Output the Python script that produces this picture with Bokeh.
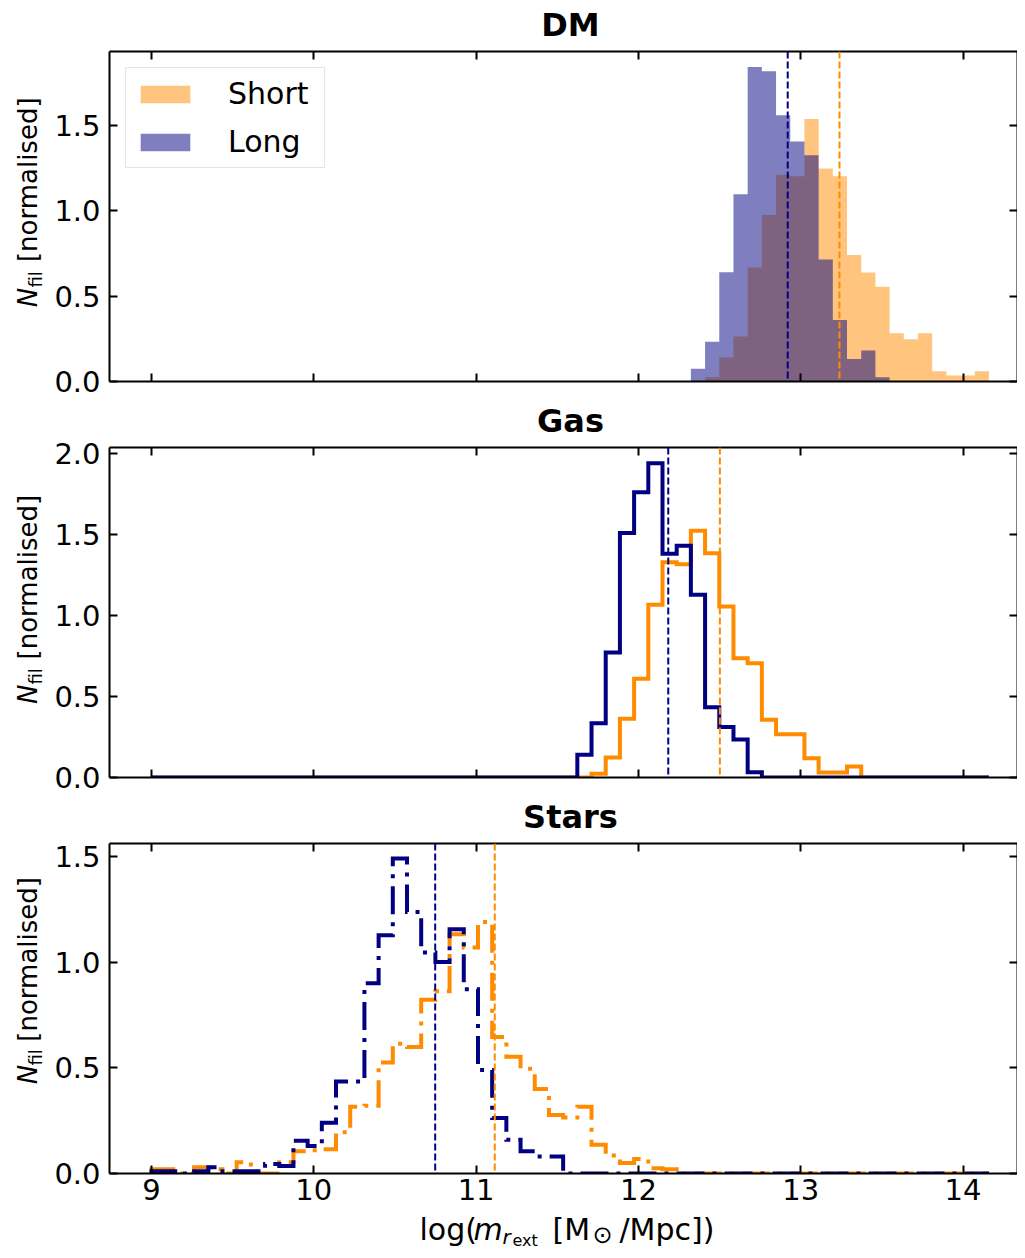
import numpy as np
from bokeh.plotting import figure
from bokeh.layouts import column, row
from bokeh.models import (Range1d, LinearAxis, FixedTicker, PrintfTickFormatter,
                          Span, Legend, LegendItem)
from bokeh.core.properties import value
from bokeh.embed import file_html
from bokeh.resources import INLINE

# ---------------- data ----------------
x_ticks = [9, 10, 11, 12, 13, 14]
dm_y_ticks = [0.0, 0.5, 1.0, 1.5]
gas_y_ticks = [0.0, 0.5, 1.0, 1.5, 2.0]
stars_y_ticks = [0.0, 0.5, 1.0, 1.5]

bin_min, bin_max, n_bins = 9.0, 14.16, 59

# DM (normalised counts, starting at the given bin index)
dm_short_first = 39
dm_short = [0.025, 0.14, 0.263, 0.667, 0.975, 1.21, 1.201, 1.537, 1.247, 1.201,
            0.741, 0.638, 0.555, 0.282, 0.247, 0.282, 0.06, 0.035, 0.035, 0.06]
dm_long_first = 38
dm_long = [0.074, 0.233, 0.640, 1.096, 1.841, 1.816, 1.559, 1.405, 1.325, 0.714,
           0.360, 0.132, 0.181, 0.025]

# Gas
gas_short_first = 31
gas_short = [0.023, 0.123, 0.362, 0.609, 1.066, 1.329, 1.317, 1.523, 1.385, 1.056,
             0.736, 0.706, 0.356, 0.267, 0.267, 0.119, 0.031, 0.031, 0.068]
gas_long_first = 30
gas_long = [0.140, 0.335, 0.772, 1.510, 1.761, 1.940, 1.381, 1.430, 1.128, 0.434,
            0.311, 0.235, 0.033]

# Stars
stars_short_first = 0
stars_short = [0.02, 0.02, 0.0, 0.03, 0.02, 0.0, 0.053, 0.0, 0.0, 0.053,
               0.105, 0.11, 0.115, 0.195, 0.316, 0.32, 0.525, 0.614, 0.598, 0.822,
               0.862, 1.132, 1.069, 1.19, 0.646, 0.552, 0.495, 0.40, 0.277, 0.265,
               0.316, 0.136, 0.085, 0.05, 0.068, 0.025, 0.02]
stars_long_first = 0
stars_long = [0.011, 0.011, 0.0, 0.011, 0.03, 0.011, 0.011, 0.011, 0.045, 0.035,
              0.155, 0.13, 0.24, 0.435, 0.435, 0.90, 1.127, 1.49, 1.237, 1.045,
              1.0, 1.155, 0.872, 0.49, 0.262, 0.16, 0.105, 0.081, 0.081]

# medians (dashed vertical lines)
median_short = [13.239, 12.502, 11.115]   # DM, Gas, Stars
median_long = [12.920, 12.184, 10.748]

panel_titles = ["DM", "Gas", "Stars"]
series_labels = ["Short", "Long"]

# ---------------- style / layout ----------------
ORANGE = "#FF8C00"
NAVY = "#000080"
FONT = "DejaVu Sans"
W = 1017          # total width
LAB_W = 50        # width of the y-label strip
PW = W - LAB_W    # panel figure width
P_LEFT = 59       # panel left border -> frame starts at x = 109
PX = 162.3
X0 = 9.0 - 42.0 / PX
X1 = X0 + (PW - P_LEFT) / PX
BASE = 0.346      # text anchor sits this many em above the baseline
TITLE_X = 570     # title centre, px from the left edge

edges = np.linspace(bin_min, bin_max, n_bins + 1)


def full(first, vals):
    h = np.zeros(n_bins)
    h[first:first + len(vals)] = vals
    return h


def outline(h):
    xs = np.repeat(edges, 2)
    ys = np.concatenate([[0.0], np.repeat(h, 2), [0.0]])
    return xs, ys


def text_canvas(width, height):
    f = figure(width=width, height=height, x_range=Range1d(0, width), y_range=Range1d(0, height),
               output_backend="svg", toolbar_location=None, tools="", title=None,
               x_axis_type=None, y_axis_type=None,
               min_border_left=0, min_border_right=0, min_border_top=0, min_border_bottom=0)
    f.outline_line_color = None
    f.grid.visible = False
    return f


def put(f, x, y, text, size, style="normal", vertical=False, align="left"):
    # (x, y): text position on its baseline, pixels from the strip's lower-left corner
    if vertical:
        x, angle = x - BASE * size, np.pi / 2
    else:
        y, angle = y + BASE * size, 0.0
    f.text(x=[x], y=[y], text=[text], angle=angle, text_font=value(FONT),
           text_font_size=value(f"{size}px"), text_font_style=style, text_align=align,
           text_baseline="alphabetic", text_color="black")


def title_strip(height, base_y, idx):
    f = text_canvas(W, height)
    put(f, TITLE_X, base_y, panel_titles[idx], 32, "bold", align="center")
    return f


def panel(height, top, bottom, y_end, y_ticks, x_labels, idx):
    p = figure(width=PW, height=height, x_range=Range1d(X0, X1), y_range=Range1d(0, y_end),
               output_backend="svg", toolbar_location=None, tools="", title=None,
               min_border_left=P_LEFT, min_border_right=0,
               min_border_top=top, min_border_bottom=bottom)
    p.outline_line_color = None
    p.grid.visible = False
    top_ax = LinearAxis()
    right_ax = LinearAxis()
    p.add_layout(top_ax, "above")
    p.add_layout(right_ax, "right")
    bottom_ax = p.below[0]
    left_ax = p.left[0]
    for ax in (top_ax, bottom_ax):
        ax.ticker = FixedTicker(ticks=x_ticks)
    for ax in (left_ax, right_ax):
        ax.ticker = FixedTicker(ticks=y_ticks)
        ax.formatter = PrintfTickFormatter(format="%.1f")
    for ax in (top_ax, bottom_ax, left_ax, right_ax):
        ax.major_tick_in = 8
        ax.major_tick_out = 0
        ax.minor_tick_in = 0
        ax.minor_tick_out = 0
        ax.major_tick_line_width = 2
        ax.major_tick_line_color = "black"
        ax.axis_line_width = 2
        ax.axis_line_color = "black"
        ax.major_label_text_font = FONT
        ax.major_label_text_font_size = "29px"
        ax.major_label_text_color = "black"
    left_ax.major_label_standoff = 9
    bottom_ax.major_label_standoff = 5
    hidden = [top_ax, right_ax] + ([] if x_labels else [bottom_ax])
    for ax in hidden:
        ax.major_label_text_color = None
        ax.major_label_text_font_size = "1px"
        ax.major_label_standoff = 0
    p.add_layout(Span(location=median_long[idx], dimension="height", line_color=NAVY,
                      line_width=2, line_dash="7 3"))
    p.add_layout(Span(location=median_short[idx], dimension="height", line_color=ORANGE,
                      line_width=2, line_dash="7 3"))
    return p


def ylabel_strip(height, bottom):
    f = text_canvas(LAB_W, height)
    y0 = bottom
    put(f, 36, y0 + 61, "N", 26, "italic", vertical=True)
    put(f, 41, y0 + 82, "fil", 18, vertical=True)
    put(f, 36, y0 + 109, "[normalised]", 26, vertical=True)
    return f


# ---------- DM ----------
dm_end = 1.932
p1 = panel(351, 3, 18, dm_end, dm_y_ticks, False, 0)
xs, ys = outline(full(dm_short_first, dm_short))
r_s = p1.patch(xs, ys, fill_color=ORANGE, fill_alpha=0.5, line_color=None)
xs, ys = outline(full(dm_long_first, dm_long))
r_l = p1.patch(xs, ys, fill_color=NAVY, fill_alpha=0.5, line_color=None)
legend = Legend(items=[LegendItem(label=series_labels[0], renderers=[r_s]),
                       LegendItem(label=series_labels[1], renderers=[r_l])],
                location="top_left", margin=16, padding=8, spacing=13,
                glyph_width=62, glyph_height=22, label_standoff=32, label_width=88,
                label_text_font=FONT, label_text_font_size="30px", label_text_color="black",
                border_line_color="#cccccc", border_line_width=1.5,
                background_fill_color="white", background_fill_alpha=0.8)
p1.add_layout(legend)

# ---------- Gas ----------
gas_end = 2.037
p2 = panel(355, 7, 18, gas_end, gas_y_ticks, False, 1)
xs, ys = outline(full(gas_short_first, gas_short))
p2.line(xs, ys, line_color=ORANGE, line_width=4, line_join="miter")
xs, ys = outline(full(gas_long_first, gas_long))
p2.line(xs, ys, line_color=NAVY, line_width=4, line_join="miter")

# ---------- Stars ----------
stars_end = 1.561
p3 = panel(373, 3, 40, stars_end, stars_y_ticks, True, 2)
xs, ys = outline(full(stars_short_first, stars_short))
p3.line(xs, ys, line_color=ORANGE, line_width=4, line_join="miter", line_dash="28 8 4 8")
xs, ys = outline(full(stars_long_first, stars_long))
p3.line(xs, ys, line_color=NAVY, line_width=4, line_join="miter", line_dash="28 8 4 8")

# ---------- x label strip: log(m_{r_ext} [M_sun/Mpc]) ----------
XL_H = 37
xl = text_canvas(W, XL_H)
put(xl, 419, 11, "log(", 30)
put(xl, 473, 11, "m", 30, "italic")
put(xl, 502, 7, "r", 20, "italic")
put(xl, 512, 4.5, "ext", 16)
put(xl, 552, 11, "[M", 30)
put(xl, 592, 7, "\u2299", 24)
put(xl, 619, 11, "/Mpc])", 30)

layout = column(
    title_strip(48, 12, 0),
    row(ylabel_strip(351, 18), p1),
    title_strip(41, 8, 1),
    row(ylabel_strip(355, 18), p2),
    title_strip(45, 12, 2),
    row(ylabel_strip(373, 40), p3),
    xl,
)
open("out.html", "w").write(file_html(layout, INLINE))
